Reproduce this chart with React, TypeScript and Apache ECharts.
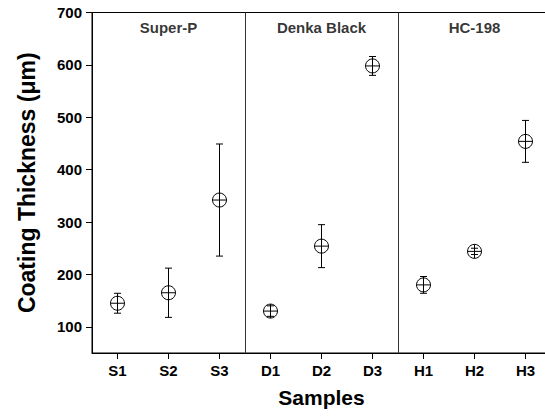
import React, { useEffect, useRef } from "react";
import * as echarts from "echarts";

const categories = ["S1", "S2", "S3", "D1", "D2", "D3", "H1", "H2", "H3"];
const means = [145, 165, 342, 130, 254, 598, 180, 244, 454];
const errors = [19, 47, 107, 10, 41, 18, 16, 6, 40];
const sectionNames = ["Super-P", "Denka Black", "HC-198"];
const sectionCenters = [1.5, 4.5, 7.5];
const sectionBounds = [3, 6];
const yTicks = [100, 200, 300, 400, 500, 600, 700];

const FONT = "'Liberation Sans', Arial, Helvetica, sans-serif";

export default function App() {
  const ref = useRef<HTMLDivElement>(null);
  useEffect(() => {
    if (!ref.current) return;
    const chart = echarts.init(ref.current, null, { renderer: "svg" });
    const xPositions = categories.map((_, i) => i + 0.5);
    const data = categories.map((_, i) => [
      i + 0.5,
      means[i],
      means[i] - errors[i],
      means[i] + errors[i],
    ]);
    chart.setOption({
      animation: false,
      backgroundColor: "#fff",
      grid: {
        left: 92,
        right: 9,
        top: 12.5,
        bottom: 65,
        show: true,
        borderColor: "#000",
        borderWidth: 1,
        containLabel: false,
      },
      xAxis: {
        type: "value",
        min: 0,
        max: 9,
        name: "Samples",
        nameLocation: "middle",
        nameGap: 34,
        nameTextStyle: { fontFamily: FONT, fontWeight: "bold", fontSize: 21, color: "#000" },
        axisLine: { show: true, lineStyle: { color: "#000", width: 1 } },
        axisTick: {
          show: true,
          inside: false,
          length: 6,
          customValues: xPositions,
          lineStyle: { color: "#000", width: 1 },
        },
        axisLabel: {
          customValues: xPositions,
          margin: 10,
          fontFamily: FONT,
          fontWeight: "bold",
          fontSize: 15,
          color: "#000",
          formatter: (v: number) => categories[Math.round(v - 0.5)] ?? "",
        },
        splitLine: { show: false },
      },
      yAxis: {
        type: "value",
        min: 50,
        max: 700,
        name: "Coating Thickness (μm)",
        nameLocation: "middle",
        nameGap: 54,
        nameTextStyle: { fontFamily: FONT, fontWeight: "bold", fontSize: 23, color: "#000" },
        axisLine: { show: true, lineStyle: { color: "#000", width: 1 } },
        axisTick: {
          show: true,
          inside: false,
          length: 6,
          customValues: yTicks,
          lineStyle: { color: "#000", width: 1 },
        },
        axisLabel: {
          customValues: yTicks,
          margin: 10,
          fontFamily: FONT,
          fontWeight: "bold",
          fontSize: 15,
          color: "#000",
        },
        splitLine: { show: false },
      },
      series: [
        {
          type: "custom",
          data,
          clip: false,
          renderItem: (params: any, api: any) => {
            const x = api.value(0);
            const c = api.coord([x, api.value(1)]);
            const lo = api.coord([x, api.value(2)]);
            const hi = api.coord([x, api.value(3)]);
            const r = 7;
            const cap = 3.5;
            const stroke = { stroke: "#000", lineWidth: 1, fill: null };
            return {
              type: "group",
              children: [
                { type: "line", shape: { x1: c[0], y1: hi[1], x2: c[0], y2: lo[1] }, style: stroke },
                { type: "line", shape: { x1: c[0] - cap, y1: hi[1], x2: c[0] + cap, y2: hi[1] }, style: stroke },
                { type: "line", shape: { x1: c[0] - cap, y1: lo[1], x2: c[0] + cap, y2: lo[1] }, style: stroke },
                { type: "circle", shape: { cx: c[0], cy: c[1], r }, style: { stroke: "#000", lineWidth: 1, fill: "none" } },
                { type: "line", shape: { x1: c[0] - r, y1: c[1], x2: c[0] + r, y2: c[1] }, style: stroke },
                { type: "line", shape: { x1: c[0], y1: c[1] - r, x2: c[0], y2: c[1] + r }, style: stroke },
              ],
            };
          },
          markLine: {
            silent: true,
            symbol: "none",
            label: { show: false },
            lineStyle: { color: "#333", width: 1, type: "solid" },
            data: sectionBounds.map((b) => ({ xAxis: b })),
          },
        },
        {
          type: "scatter",
          symbolSize: 0,
          silent: true,
          data: sectionNames.map((n, i) => ({ value: [sectionCenters[i], 672], name: n })),
          label: {
            show: true,
            position: "inside",
            formatter: (p: any) => p.name,
            fontFamily: FONT,
            fontWeight: "bold",
            fontSize: 15,
            color: "#000",
          },
        },
      ],
    });
    return () => chart.dispose();
  }, []);
  return (
    <div
      style={{ position: "fixed", left: 0, top: 0, width: 545, height: 418, overflow: "hidden", background: "#fff" }}
    >
      <div ref={ref} style={{ width: 560, height: 418 }} />
    </div>
  );
}
